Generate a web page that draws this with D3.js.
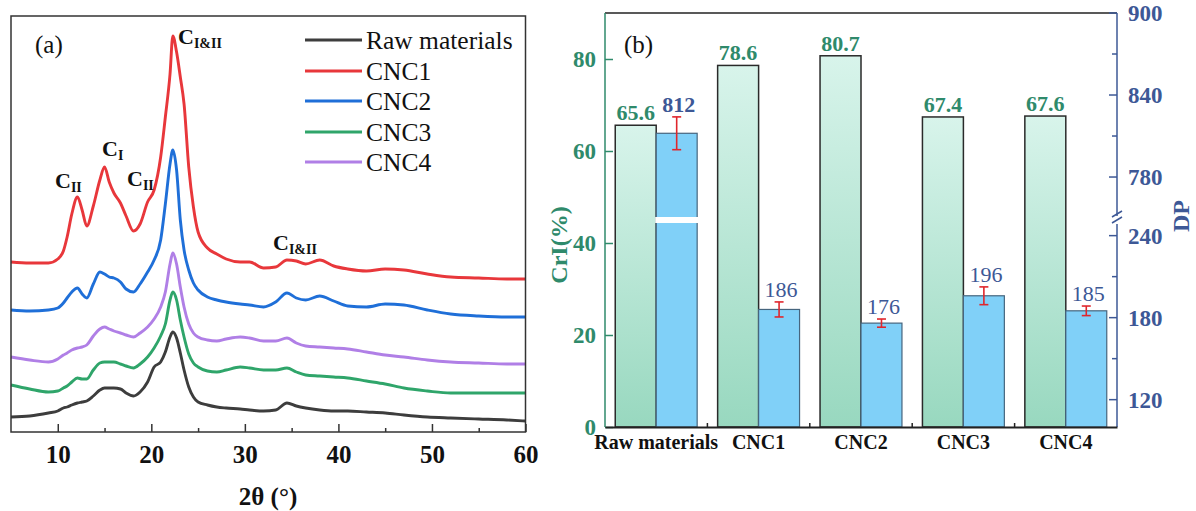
<!DOCTYPE html>
<html><head><meta charset="utf-8">
<script src="https://cdn.jsdelivr.net/npm/d3@7"></script>
<style>
html,body{margin:0;padding:0;background:#fff;}
svg{display:block;font-family:"Liberation Serif","Times New Roman",serif;}
</style></head>
<body>
<svg id="chart" width="1196" height="511"></svg>
<script>
// ---------- Panel (a) data: XRD patterns (intensity in a.u.) ----------
const thetaGrid = [5,7,9,10,10.6,11,11.5,12.1,12.6,13.1,13.8,14.5,15,15.5,16,16.7,17.3,18.1,18.8,19.6,20.3,21,21.5,22,22.3,22.7,23.1,23.5,24,24.5,25,26,27,28,29.5,30.5,32,33.3,34.5,35.5,36.5,38,39.5,41,43,45,47,49.5,52,55,58,60];
const rawXRD  = [15,16,19,21,24,25,27,29,30,31,36,42,44,44,44,43,39,36,40,50,65,70,80,95,100,94,79,62,45,35,30,27,25,24,23,22,21,22,29,26,24,22,21,21,20,19,17,15,14,13,12,11];
const cnc1XRD = [170,169,169,173,181,195,218,235,222,206,226,252,265,250,239,229,216,201,208,230,242,275,315,358,396,380,355,328,265,225,200,184,178,173,170,170,164,165,172,171,168,172,166,163,161,163,162,158,155,154,153,153];
const cnc2XRD = [122,121,122,124,129,134,140,144,138,134,148,160,158,155,154,150,143,140,148,160,172,192,228,268,282,262,212,182,162,149,142,135,132,130,128,127,125,130,139,134,132,136,131,126,125,128,127,122,118,116,115,115];
const cnc3XRD = [47,43,40,41,44,46,50,54,53,53,62,69,70,70,70,68,66,64,68,75,84,96,108,132,140,132,112,95,78,69,65,61,60,62,65,64,62,62,64,60,57,56,55,54,51,48,44,41,39,39,39,39];
const cnc4XRD = [75,72,70,73,77,79,82,84,85,87,96,103,105,103,101,99,97,95,99,105,113,125,140,168,179,168,145,125,108,99,95,92,91,93,95,94,91,91,94,89,86,85,84,83,80,77,75,72,70,69,68,68];
const seriesNames = ["Raw materials","CNC1","CNC2","CNC3","CNC4"];
const seriesColors = ["#3d3d3d","#e8373b","#1f6fd8","#2fa56a","#b07fe6"];
const xrdTicks = [10,20,30,40,50,60];
const xrdMinorTicks = [15,25,35,45,55];

// ---------- Panel (b) data ----------
const categories = ["Raw materials","CNC1","CNC2","CNC3","CNC4"];
const criValues = [65.6,78.6,80.7,67.4,67.6];
const dpValues  = [812,186,176,196,185];
const dpErrors  = [12,5.5,3,6.5,3.5];
const criTicks = [0,20,40,60,80];
const dpTicksLow = [120,180,240];
const dpMinorLow = [150,210];
const dpTicksHigh = [780,840,900];
const dpMinorHigh = [810,870];

const svg = d3.select("#chart");
const defs = svg.append("defs");

// ================= Panel (a) =================
const aL = 11, aR = 525.5, aT = 16, aB = 432;
const xA = d3.scaleLinear().domain([5,60]).range([aL,aR]);
const yA = d3.scaleLinear().domain([0,416]).range([aB,aT]);
const gA = svg.append("g");

const allXRD = [rawXRD,cnc1XRD,cnc2XRD,cnc3XRD,cnc4XRD];
const line = d3.line().x(d=>xA(d[0])).y(d=>yA(d[1])).curve(d3.curveMonotoneX);
[0,3,4,2,1].forEach(i=>{
  gA.append("path")
    .datum(thetaGrid.map((t,j)=>[t, allXRD[i][j]]))
    .attr("d", line)
    .attr("fill","none")
    .attr("stroke", seriesColors[i])
    .attr("stroke-width", 2.9)
    .attr("stroke-linejoin","round");
});

// frame
gA.append("rect").attr("x",aL).attr("y",aT).attr("width",aR-aL).attr("height",aB-aT)
  .attr("fill","none").attr("stroke","#333").attr("stroke-width",1.5);

// bottom axis
const axA = gA.append("g").attr("transform",`translate(0,${aB})`)
  .call(d3.axisBottom(xA).tickValues(xrdTicks).tickSize(-8).tickPadding(13).tickFormat(d3.format("d")));
axA.select(".domain").remove();
axA.selectAll(".tick line").attr("stroke","#333").attr("stroke-width",1.5);
axA.selectAll(".tick text").attr("font-size",25).attr("font-weight","bold").attr("fill","#111")
  .attr("font-family","Liberation Serif, serif");
const axAm = gA.append("g").attr("transform",`translate(0,${aB})`)
  .call(d3.axisBottom(xA).tickValues(xrdMinorTicks).tickSize(-4).tickFormat(""));
axAm.select(".domain").remove();
axAm.selectAll(".tick line").attr("stroke","#333").attr("stroke-width",1.5);

gA.append("text").attr("x",268).attr("y",505).attr("text-anchor","middle")
  .attr("font-size",25).attr("font-weight","bold").attr("fill","#111").text("2θ (°)");

gA.append("text").attr("x",35).attr("y",53).attr("font-size",25).attr("fill","#111").text("(a)");

// legend
const legRows = [40,71,101,132,162];
seriesNames.forEach((n,i)=>{
  gA.append("line").attr("x1",305).attr("x2",362).attr("y1",legRows[i]).attr("y2",legRows[i])
    .attr("stroke",seriesColors[i]).attr("stroke-width",2.9);
  gA.append("text").attr("x",366).attr("y",legRows[i]).attr("dy","0.35em")
    .attr("font-size",25.5).attr("fill","#111").text(n);
});

// peak labels
const peakLabels = [
  {x:178,y:44,sub:"I&II"},
  {x:102,y:156,sub:"I"},
  {x:55,y:188,sub:"II"},
  {x:127,y:186,sub:"II"},
  {x:273,y:250,sub:"I&II"}
];
peakLabels.forEach(p=>{
  const t = gA.append("text").attr("x",p.x).attr("y",p.y).attr("font-weight","bold").attr("fill","#111");
  t.append("tspan").attr("font-size",22).text("C");
  t.append("tspan").attr("font-size",14).attr("dy",4).text(p.sub);
});

// ================= Panel (b) =================
const bL = 605, bR = 1117, bT = 13, bB = 427;
const green = "#2f8a6b", blue = "#3d5896";
const xB = d3.scaleBand().domain(categories).range([bL,bR]).paddingInner(0.2).paddingOuter(0.1);
const yC = d3.scaleLinear().domain([0,90]).range([bB,bT]);
const breakY = 220;
const yLow = d3.scaleLinear().domain([100,251]).range([bB,breakY+0.6]);
const yHigh = d3.scaleLinear().domain([749,900]).range([breakY-0.6,bT]);
const yD = v => v >= 749 ? yHigh(v) : yLow(v);
const gB = svg.append("g");

const grad = defs.append("linearGradient").attr("id","gGrad").attr("x1",0).attr("y1",0).attr("x2",0).attr("y2",1);
grad.append("stop").attr("offset","0%").attr("stop-color","#d8f4eb");
grad.append("stop").attr("offset","100%").attr("stop-color","#98d8bf");

const bw = xB.bandwidth()/2;
gB.selectAll(".cri").data(categories).join("rect")
  .attr("x",d=>xB(d)).attr("width",bw)
  .attr("y",(d,i)=>yC(criValues[i])).attr("height",(d,i)=>bB-yC(criValues[i]))
  .attr("fill","url(#gGrad)").attr("stroke","#2a2a2a").attr("stroke-width",1.5);
gB.selectAll(".dp").data(categories).join("rect")
  .attr("x",d=>xB(d)+bw).attr("width",bw)
  .attr("y",(d,i)=>yD(dpValues[i])).attr("height",(d,i)=>bB-yD(dpValues[i]))
  .attr("fill","#80d0f8").attr("stroke","#46657e").attr("stroke-width",1.2);
categories.forEach((c,i)=>{
  if(dpValues[i] >= 749){
    gB.append("rect").attr("x",xB(c)+bw-1).attr("width",bw+2.5)
      .attr("y",breakY-3).attr("height",6).attr("fill","#fff");
  }
});
categories.forEach((c,i)=>{
  const cx = xB(c)+bw*1.5;
  const y1 = yD(dpValues[i]+dpErrors[i]), y2 = yD(dpValues[i]-dpErrors[i]);
  const eg = gB.append("g").attr("stroke","#e0262c").attr("stroke-width",1.6);
  eg.append("line").attr("x1",cx).attr("x2",cx).attr("y1",y1).attr("y2",y2);
  eg.append("line").attr("x1",cx-4.5).attr("x2",cx+4.5).attr("y1",y1).attr("y2",y1);
  eg.append("line").attr("x1",cx-4.5).attr("x2",cx+4.5).attr("y1",y2).attr("y2",y2);
});
categories.forEach((c,i)=>{
  gB.append("text").attr("x",xB(c)+bw/2).attr("y",yC(criValues[i])-5)
    .attr("text-anchor","middle").attr("font-size",22).attr("font-weight","bold").attr("fill",green)
    .text(criValues[i].toFixed(1));
  gB.append("text").attr("x",xB(c)+bw*1.5+2).attr("y",yD(dpValues[i]+dpErrors[i])-5)
    .attr("text-anchor","middle").attr("font-size",22).attr("font-weight", i===0?"bold":"normal").attr("fill",blue)
    .text(dpValues[i]);
});

gB.append("line").attr("x1",bL).attr("x2",bR).attr("y1",bT).attr("y2",bT).attr("stroke","#222").attr("stroke-width",1.5);

const axL = gB.append("g").attr("transform",`translate(${bL},0)`)
  .call(d3.axisLeft(yC).tickValues(criTicks).tickSize(-8).tickPadding(9).tickFormat(d3.format("d")));
axL.select(".domain").attr("stroke",green).attr("stroke-width",1.5).attr("d",`M0,${bT}V${bB}`);
axL.selectAll(".tick line").attr("stroke",green).attr("stroke-width",1.5);
axL.selectAll(".tick text").attr("font-size",23).attr("font-weight","bold").attr("fill",green)
  .attr("font-family","Liberation Serif, serif");

const rAx = gB.append("g").attr("transform",`translate(${bR},0)`);
rAx.append("line").attr("x1",0).attr("x2",0).attr("y1",bT).attr("y2",breakY-4).attr("stroke",blue).attr("stroke-width",1.5);
rAx.append("line").attr("x1",0).attr("x2",0).attr("y1",breakY+4).attr("y2",bB).attr("stroke",blue).attr("stroke-width",1.5);
rAx.append("line").attr("x1",-5).attr("x2",5).attr("y1",breakY-3).attr("y2",breakY-9).attr("stroke",blue).attr("stroke-width",1.5);
rAx.append("line").attr("x1",-5).attr("x2",5).attr("y1",breakY+3).attr("y2",breakY-3).attr("stroke",blue).attr("stroke-width",1.5);
const rMajor = dpTicksLow.map(v=>yLow(v)).concat(dpTicksHigh.map(v=>yHigh(v)));
const rLabels = dpTicksLow.concat(dpTicksHigh);
const rMinor = dpMinorLow.map(v=>yLow(v)).concat(dpMinorHigh.map(v=>yHigh(v)));
rMajor.forEach((y,i)=>{
  rAx.append("line").attr("x1",-8).attr("x2",0).attr("y1",y).attr("y2",y).attr("stroke",blue).attr("stroke-width",1.5);
  rAx.append("text").attr("x",11).attr("y",y).attr("dy","0.35em").attr("font-size",23).attr("font-weight","bold")
    .attr("fill",blue).text(rLabels[i]);
});
rMinor.forEach(y=>{
  rAx.append("line").attr("x1",-5).attr("x2",0).attr("y1",y).attr("y2",y).attr("stroke",blue).attr("stroke-width",1.5);
});

const axB = gB.append("g").attr("transform",`translate(0,${bB})`)
  .call(d3.axisBottom(xB).tickSize(0).tickPadding(8));
axB.select(".domain").attr("stroke","#222").attr("stroke-width",2);
axB.selectAll(".tick text").attr("font-size",20).attr("font-weight","bold").attr("fill","#111")
  .attr("font-family","Liberation Serif, serif");
categories.slice(1).forEach(c=>{
  const x = xB(c) - xB.step()*xB.paddingInner()/2;
  gB.append("line").attr("x1",x).attr("x2",x).attr("y1",bB).attr("y2",bB-4).attr("stroke","#222").attr("stroke-width",1.5);
});

gB.append("text").attr("transform","translate(567,245) rotate(-90)").attr("text-anchor","middle")
  .attr("font-size",24).attr("font-weight","bold").attr("fill",green).text("CrI(%)");
gB.append("text").attr("transform","translate(1189,216) rotate(-90)").attr("text-anchor","middle")
  .attr("font-size",24).attr("font-weight","bold").attr("fill",blue).text("DP");
gB.append("text").attr("x",624).attr("y",53).attr("font-size",25).attr("fill","#111").text("(b)");
</script>
</body></html>
